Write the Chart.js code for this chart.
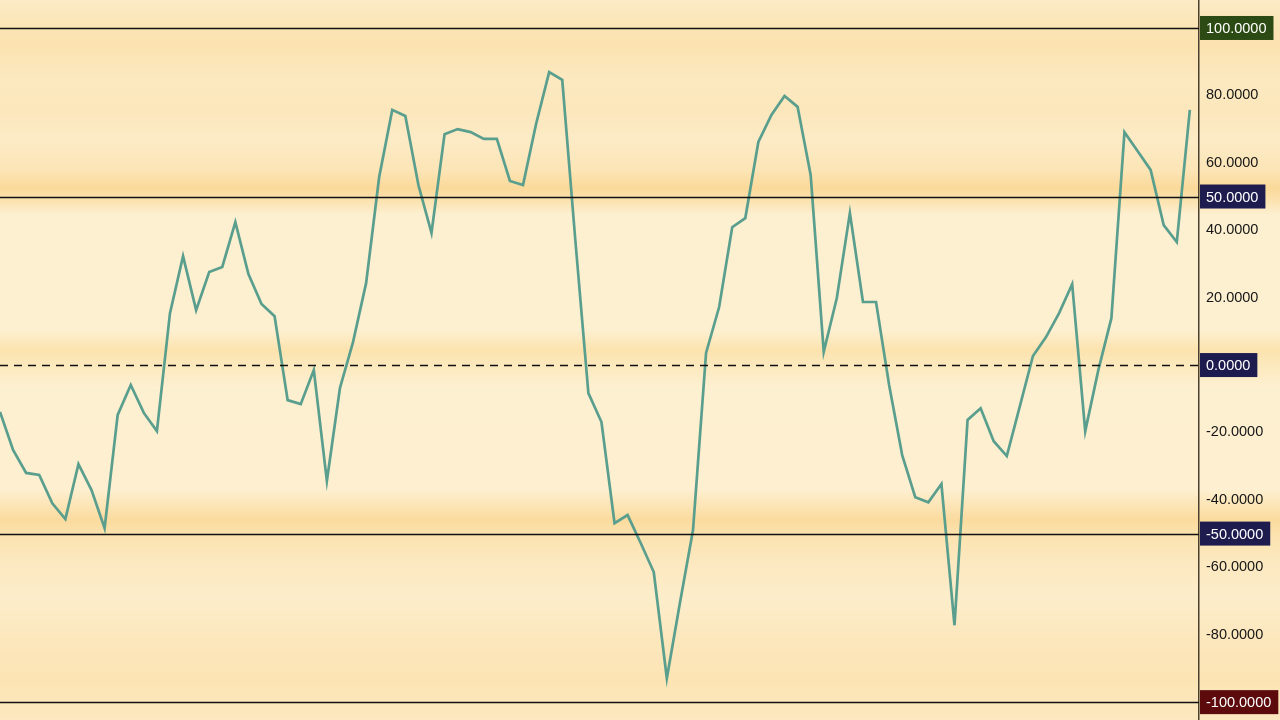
<!DOCTYPE html>
<html>
<head>
<meta charset="utf-8">
<script src="https://cdn.jsdelivr.net/npm/chart.js@4.4.1/dist/chart.umd.min.js"></script>
<style>
  html, body { margin: 0; padding: 0; background: #fcefce; }
  #wrap { width: 1280px; height: 720px; }
</style>
</head>
<body>
<div id="wrap"><canvas id="osc" width="1280" height="720"></canvas></div>
<script>
// oscillator values, one per bar
const values = [
  -13.9, -25.2, -32.0, -32.6, -41.0, -45.7, -29.4, -37.1, -48.4, -14.8,
  -5.9, -14.2, -19.6, 15.4, 32.3, 16.3, 27.6, 29.1, 42.4, 27.0,
  18.1, 14.5, -10.4, -11.6, -1.5, -34.4, -6.8, 6.8, 24.3, 55.8,
  75.7, 73.9, 53.4, 39.2, 68.5, 70.0, 69.1, 67.1, 67.1, 54.6,
  53.4, 71.5, 86.9, 84.6, 37.1, -8.3, -16.9, -46.9, -44.5, -52.8,
  -61.4, -92.9, -70.6, -49.0, 3.6, 17.2, 40.9, 43.6, 66.2, 74.2,
  79.8, 76.6, 56.4, 3.9, 19.9, 45.1, 18.7, 18.7, -5.9, -26.7,
  -39.2, -40.7, -35.3, -77.2, -16.3, -12.8, -22.6, -27.0, -12.2, 2.7,
  8.3, 15.4, 24.0, -19.6, -1.5, 13.9, 69.1, 63.5, 57.9, 41.5,
  36.5, 75.7
];
const bars = values.map((v, i) => i);

// reference levels drawn as lines with boxed labels on the axis
const levels      = [100, 50, 0, -50, -100];
const levelColors = ['#2c4a14', '#1e1c4f', '#1e1c4f', '#1e1c4f', '#5c0a0c'];
const levelDashed = [false, false, true, false, false];

// plain tick labels
const tickValues = [80, 60, 40, 20, -20, -40, -60, -80];

// background colour bands (pixel row, colour)
const bandRows   = [0, 28, 45, 80, 110, 140, 170, 188, 198, 215, 330, 350, 366, 388, 490, 520, 536, 560, 600, 640, 680, 720];
const bandColors = ['#fcebc5', '#fbe4b5', '#fbe2b0', '#fce9c0', '#fce7bc', '#fcebc6', '#fce5b6', '#fbd99a', '#fbe0aa', '#fdf0d1',
                    '#fdf0d1', '#fce3ae', '#fce9be', '#fdf0d1', '#fdefcf', '#fbdb9e', '#fce3b0', '#fce8bf', '#fcedca', '#fce7bc',
                    '#fce4b4', '#fce8bf'];

const bgPlugin = {
  id: 'bg',
  beforeDraw(chart) {
    const { ctx, width, height } = chart;
    const g = ctx.createLinearGradient(0, 0, 0, height);
    bandRows.forEach((r, i) => g.addColorStop(r / height, bandColors[i]));
    ctx.save();
    ctx.fillStyle = g;
    ctx.fillRect(0, 0, width, height);
    ctx.restore();
  }
};

const fontFamily = '"Liberation Sans", Arial, sans-serif';

const levelPlugin = {
  id: 'levels',
  afterDatasetsDraw(chart) {
    const { ctx, chartArea } = chart;
    const y = chart.scales.y;
    ctx.save();
    levels.forEach((lv, i) => {
      const py = Math.round(y.getPixelForValue(lv)) + 0.5;
      ctx.beginPath();
      ctx.strokeStyle = '#111';
      ctx.lineWidth = levelDashed[i] ? 1.6 : 1.3;
      ctx.setLineDash(levelDashed[i] ? [8, 6] : []);
      ctx.moveTo(chartArea.left, py);
      ctx.lineTo(chartArea.right, py);
      ctx.stroke();
    });
    ctx.setLineDash([]);
    ctx.font = '14.5px ' + fontFamily;
    ctx.textBaseline = 'middle';
    levels.forEach((lv, i) => {
      const py = y.getPixelForValue(lv);
      const txt = lv.toFixed(4);
      const w = ctx.measureText(txt).width;
      ctx.fillStyle = levelColors[i];
      ctx.fillRect(chartArea.right + 1, py - 12, w + 13, 24);
      ctx.fillStyle = '#fff';
      ctx.fillText(txt, chartArea.right + 7, py + 1);
    });
    ctx.restore();
  }
};

new Chart(document.getElementById('osc'), {
  type: 'line',
  data: {
    datasets: [{
      data: values.map((v, i) => ({ x: bars[i], y: v })),
      borderColor: '#5a9e8e',
      borderWidth: 2.7,
      pointRadius: 0,
      tension: 0,
      fill: false
    }]
  },
  options: {
    responsive: false,
    animation: false,
    layout: { padding: 0 },
    plugins: { legend: { display: false }, tooltip: { enabled: false } },
    scales: {
      x: {
        type: 'linear',
        display: false,
        min: 0,
        max: 91.7
      },
      y: {
        position: 'right',
        min: -105.3,
        max: 108.3,
        afterFit(scale) {
          scale.width = 81;
          scale.paddingTop = 0;
          scale.paddingBottom = 0;
        },
        afterBuildTicks(scale) { scale.ticks = tickValues.map(v => ({ value: v })); },
        grid: { display: false, drawTicks: true, tickLength: 4, tickColor: '#4a4030' },
        border: { display: true, color: '#4a4030', width: 1.5 },
        ticks: {
          color: '#161616',
          padding: 3,
          font: { family: fontFamily, size: 14.5 },
          callback: v => Number(v).toFixed(4)
        }
      }
    }
  },
  plugins: [bgPlugin, levelPlugin]
});
</script>
</body>
</html>
